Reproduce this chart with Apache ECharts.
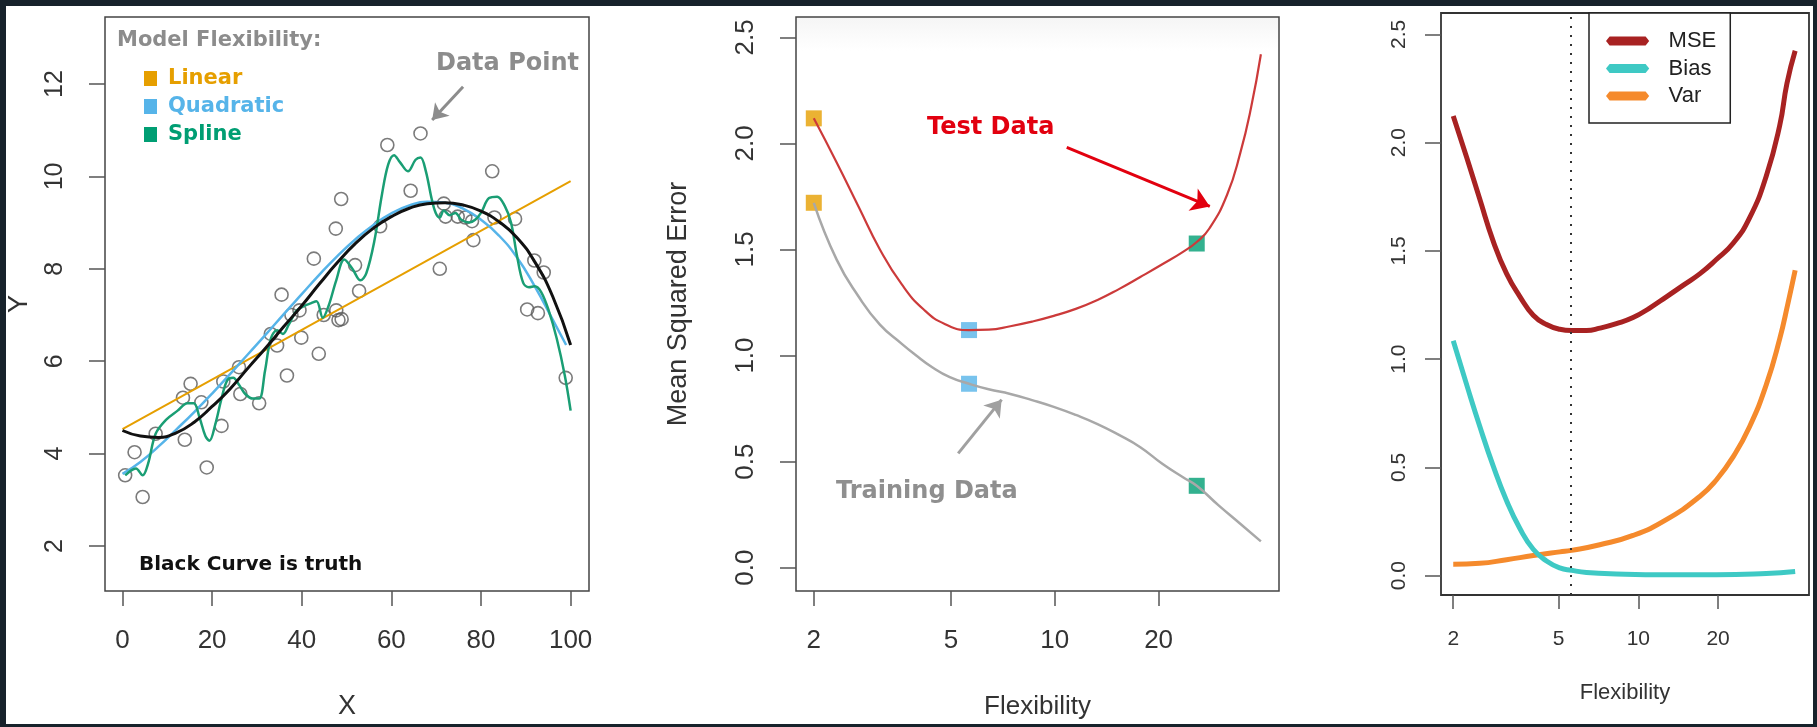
<!DOCTYPE html>
<html>
<head>
<meta charset="utf-8">
<script src="https://cdn.jsdelivr.net/npm/echarts@6/dist/echarts.min.js"></script>
<style>
html,body{margin:0;padding:0;background:#17222b;overflow:hidden;}
#bg{position:absolute;left:6px;top:6px;width:1807px;height:718px;background:#ffffff;}
#c{position:absolute;left:0;top:0;width:1817px;height:727px;}
</style>
</head>
<body>
<div id="bg"></div>
<div id="c"></div>
<script>
// ---------- Left panel: simulated data ----------
const dataX = [0.6,2.7,4.5,7.4,13.9,13.5,15.2,17.6,18.8,22.1,22.5,26.0,26.3,30.5,33.1,34.5,35.5,36.7,37.7,39.5,39.9,42.7,43.8,44.9,47.6,47.7,48.2,48.9,48.8,51.9,52.8,57.5,59.1,64.3,66.5,70.8,71.7,72.1,74.8,76.5,78.0,78.3,82.5,83.0,87.6,90.3,91.9,92.7,94.0,98.9];
const dataY = [3.53,4.03,3.06,4.43,4.30,5.21,5.51,5.11,3.70,4.60,5.56,5.87,5.29,5.09,6.59,6.34,7.44,5.69,7.00,7.10,6.51,8.22,6.16,7.00,8.87,7.10,6.89,6.91,9.51,8.08,7.52,8.92,10.68,9.69,10.93,8.00,9.41,9.13,9.13,9.11,9.03,8.62,10.11,9.11,9.08,7.12,8.18,7.04,7.92,5.64];

const linearX = [0, 100];
const linearY = [4.53, 9.90];

const quadX = [0,4,8,12,16,20,24,28,32,36,40,44,48,52,56,60,64,68,72,76,80,84,88,92,96,99];
const quadY = [3.56,3.82,4.15,4.52,4.90,5.30,5.72,6.15,6.58,7.02,7.45,7.88,8.28,8.64,8.95,9.20,9.37,9.45,9.43,9.30,9.06,8.72,8.25,7.62,6.90,6.35];

const splineX = [0.6,3,4.5,5.7,7.4,9.7,12.3,14.5,15.9,17.2,18.5,19.4,20.7,22.1,23.4,24.7,26.0,27.4,29.1,30.5,31.8,33.1,34.5,35.8,37.1,38.9,40.7,42.0,43.3,44.7,46.0,47.7,49.5,51.3,53.1,54.4,56.2,57.9,59.3,60.6,61.9,63.7,65.4,66.5,67.7,69.0,69.9,70.8,71.7,73.0,74.3,75.6,77.4,78.7,80.0,81.8,83.6,85.3,86.7,88.0,89.4,90.7,92.0,93.4,95.1,96.9,98.7,100];
const splineY = [3.53,3.68,3.53,3.78,4.43,4.73,4.93,5.09,5.09,4.78,4.38,4.28,4.63,5.19,5.59,5.64,5.49,5.29,5.19,5.19,5.79,6.49,6.67,6.59,6.79,7.10,7.20,7.25,7.30,6.94,7.20,7.75,8.20,8.00,7.75,7.90,8.60,9.61,10.26,10.46,10.31,10.11,10.36,10.41,10.11,9.51,9.21,9.11,9.26,9.16,9.21,9.06,9.00,9.06,9.21,9.53,9.56,9.36,9.00,8.30,7.70,7.60,7.62,7.50,7.10,6.49,5.69,4.93];

const truthX = [0,4,8,12,16,20,24,28,32,36,40,44,48,52,56,60,64,68,72,76,80,84,88,92,96,100];
const truthY = [4.50,4.38,4.35,4.45,4.68,5.02,5.40,5.85,6.29,6.75,7.20,7.68,8.14,8.55,8.88,9.13,9.31,9.41,9.43,9.38,9.25,9.02,8.68,8.15,7.40,6.35];

const leftXTicks = [0,20,40,60,80,100];
const leftYTicks = [2,4,6,8,10,12];

// ---------- Middle panel: train / test MSE ----------
const testX = [2,2.33,2.70,3.11,3.60,4.16,4.81,5.64,6.43,7.43,8.59,9.93,11.5,13.3,15.3,17.7,20.5,23.6,25.8,28.1,31.6,34.5,37.1,39.6];
const testY = [2.118,1.91,1.70,1.50,1.335,1.218,1.148,1.12,1.122,1.138,1.16,1.187,1.22,1.262,1.312,1.37,1.43,1.49,1.535,1.60,1.758,1.954,2.17,2.42];
const trainX = [2,2.33,2.70,3.11,3.60,3.93,4.41,4.96,5.64,6.43,7.43,8.59,9.93,11.5,13.3,15.3,17.7,20.5,23.6,25.8,29.8,34.5,39.6];
const trainY = [1.72,1.452,1.277,1.146,1.055,1.005,0.945,0.898,0.867,0.841,0.819,0.79,0.758,0.72,0.677,0.627,0.568,0.49,0.425,0.386,0.295,0.207,0.124];
const fitFlex = [2, 5.64, 25.8];
const fitTest = [2.118, 1.12, 1.528];
const fitTrain = [1.72, 0.867, 0.386];

const flexTicks = [2,5,10,20];
const mseTicks = [0,0.5,1,1.5,2,2.5];

// ---------- Right panel: bias-variance decomposition ----------
const mseX = [2,2.25,2.52,2.83,3.18,3.57,4.01,4.50,5.05,5.59,6.37,7.15,8.26,9.55,11.0,12.8,14.8,17.1,19.7,22.8,26.3,30.4,34.2,36.4,39.1];
const mseY = [2.123,1.93,1.738,1.545,1.395,1.289,1.203,1.16,1.138,1.132,1.132,1.143,1.164,1.192,1.235,1.289,1.342,1.395,1.46,1.535,1.652,1.845,2.08,2.273,2.424];
const biasX = [2,2.25,2.52,2.83,3.18,3.57,4.01,4.50,5.05,5.59,6.37,8.26,12.8,19.7,30.4,39.1];
const biasY = [1.085,0.88,0.689,0.507,0.346,0.218,0.122,0.068,0.036,0.025,0.015,0.008,0.004,0.004,0.010,0.019];
const varX = [2,2.52,3.18,4.01,5.05,5.59,7.15,9.55,12.8,17.1,19.7,22.8,26.3,30.4,34.2,36.7,39.1];
const varY = [0.053,0.057,0.074,0.093,0.11,0.117,0.143,0.186,0.26,0.367,0.442,0.549,0.688,0.881,1.095,1.256,1.41];
const optimumFlex = 5.56;

// ---------- helpers / styles ----------
const pairs = (xs, ys) => xs.map((x, i) => [x, ys[i]]);
const FONT = '"Liberation Sans", Arial, sans-serif';
const BOLD = '"DejaVu Sans", Verdana, sans-serif';
const fitColors = ['#E69F00', '#56B4E9', '#009E73'];

function axisBase(grid, extra) {
  return Object.assign({
    gridIndex: grid,
    axisLine: {show: false, onZero: false},
    splitLine: {show: false},
    minorTick: {show: false},
    nameLocation: 'middle',
    nameMoveOverlap: false
  }, extra);
}
function ticks(vals, len) {
  return {show: true, inside: false, length: len, customValues: vals, lineStyle: {color: '#555', width: 1.5}};
}
function labels(vals, size, margin, rotate, fmt) {
  return {show: true, customValues: vals, fontSize: size, color: '#333', fontFamily: FONT,
          margin: margin, rotate: rotate, formatter: fmt};
}
function arrow(color, size, from, to) {
  return {silent: true, symbol: ['none', 'arrow'], symbolSize: size, label: {show: false},
          itemStyle: {color: color}, emphasis: {disabled: true},
          lineStyle: {color: color, width: 3, type: 'solid'},
          data: [[{coord: from}, {coord: to}]]};
}

const chart = echarts.init(document.getElementById('c'), null, {renderer: 'canvas'});

const option = {
  animation: false,
  backgroundColor: 'transparent',
  grid: [
    {left: 105, top: 17, width: 484, height: 574, show: true, borderColor: '#444', borderWidth: 1.5, backgroundColor: '#fff', outerBoundsMode: 'none', containLabel: false},
    {left: 796, top: 17, width: 483, height: 574, show: true, borderColor: '#444', borderWidth: 1.5, outerBoundsMode: 'none', containLabel: false,
      backgroundColor: {type: 'linear', x: 0, y: 0, x2: 0, y2: 1, colorStops: [{offset: 0, color: '#f5f5f5'}, {offset: 0.06, color: '#ffffff'}, {offset: 1, color: '#ffffff'}]}},
    {left: 1441, top: 13, width: 368, height: 582, show: true, borderColor: '#333', borderWidth: 1.8, backgroundColor: '#fff', outerBoundsMode: 'none', containLabel: false}
  ],
  xAxis: [
    axisBase(0, {type: 'value', min: -3.9, max: 104.1,
      axisTick: ticks(leftXTicks, 15), axisLabel: labels(leftXTicks, 26, 37, 0, v => String(Math.round(v))),
      name: 'X', nameGap: 102, nameTextStyle: {fontSize: 27, color: '#333', fontFamily: FONT}}),
    axisBase(1, {type: 'log', logBase: 10, min: 1.776, max: 44.69,
      axisTick: ticks(flexTicks, 15), axisLabel: labels(flexTicks, 26, 37, 0, v => String(Math.round(v))),
      name: 'Flexibility', nameGap: 103, nameTextStyle: {fontSize: 26, color: '#333', fontFamily: FONT}}),
    axisBase(2, {type: 'log', logBase: 10, min: 1.798, max: 44.1,
      axisTick: ticks(flexTicks, 14), axisLabel: labels(flexTicks, 21, 34, 0, v => String(Math.round(v))),
      name: 'Flexibility', nameGap: 87, nameTextStyle: {fontSize: 22, color: '#333', fontFamily: FONT}})
  ],
  yAxis: [
    axisBase(0, {type: 'value', min: 1.026, max: 13.45,
      axisTick: ticks(leftYTicks, 16), axisLabel: labels(leftYTicks, 25, 37, 90, v => String(Math.round(v))),
      name: 'Y', nameGap: 72, nameTextStyle: {fontSize: 27, color: '#333', fontFamily: FONT}}),
    axisBase(1, {type: 'value', min: -0.1098, max: 2.5957,
      axisTick: ticks(mseTicks, 16), axisLabel: labels(mseTicks, 26, 37, 90, v => v.toFixed(1)),
      name: 'Mean Squared Error', nameGap: 104, nameTextStyle: {fontSize: 27, color: '#333', fontFamily: FONT}}),
    axisBase(2, {type: 'value', min: -0.0891, max: 2.5984,
      axisTick: ticks(mseTicks, 16), axisLabel: labels(mseTicks, 21, 31, 90, v => v.toFixed(1))})
  ],
  legend: [
    {data: [{name: 'Linear', textStyle: {color: fitColors[0]}},
            {name: 'Quadratic', textStyle: {color: fitColors[1]}},
            {name: 'Spline', textStyle: {color: fitColors[2]}}],
     orient: 'vertical', left: 144, top: 68, padding: 0, itemWidth: 13, itemHeight: 15, itemGap: 7,
     icon: 'rect', selectedMode: false,
     textStyle: {fontFamily: BOLD, fontWeight: 'bold', fontSize: 21, padding: [0, 0, 0, 6]}},
    {data: ['MSE', 'Bias', 'Var'], orient: 'vertical', left: 1589, top: 13,
     padding: [17, 14, 16, 17], itemWidth: 48, itemHeight: 9, itemGap: 5.5,
     icon: 'path://M0,5 L4,0 L44,0 L48,5 L44,10 L4,10 Z', selectedMode: false,
     borderColor: '#222', borderWidth: 1.5, backgroundColor: '#fff',
     textStyle: {fontFamily: FONT, fontSize: 22, color: '#222', padding: [0, 0, 0, 12]}}
  ],
  graphic: [
    {type: 'text', x: 117, y: 41, z: 100, style: {text: 'Model Flexibility:', fill: '#8c8c8c', font: 'bold 21px "DejaVu Sans"', verticalAlign: 'middle', textVerticalAlign: 'middle'}},
    {type: 'text', x: 436, y: 64, z: 100, style: {text: 'Data Point', fill: '#8c8c8c', font: 'bold 24px "DejaVu Sans"', verticalAlign: 'middle', textVerticalAlign: 'middle'}},
    {type: 'text', x: 139, y: 565, z: 100, style: {text: 'Black Curve is truth', fill: '#111', font: 'bold 20px "DejaVu Sans"', verticalAlign: 'middle', textVerticalAlign: 'middle'}},
    {type: 'text', x: 927, y: 128, z: 100, style: {text: 'Test Data', fill: '#e2000f', font: 'bold 24px "DejaVu Sans"', verticalAlign: 'middle', textVerticalAlign: 'middle'}},
    {type: 'text', x: 836, y: 492, z: 100, style: {text: 'Training Data', fill: '#8f8f8f', font: 'bold 24px "DejaVu Sans"', verticalAlign: 'middle', textVerticalAlign: 'middle'}}
  ],
  series: [
    // left panel
    {name: 'Data', type: 'scatter', xAxisIndex: 0, yAxisIndex: 0, data: pairs(dataX, dataY),
     symbol: 'circle', symbolSize: 13, silent: true,
     itemStyle: {color: 'rgba(0,0,0,0)', borderColor: '#5a5a5a', borderWidth: 1.6}},
    {name: 'Linear', type: 'line', xAxisIndex: 0, yAxisIndex: 0, data: pairs(linearX, linearY),
     showSymbol: false, itemStyle: {color: fitColors[0]}, lineStyle: {color: fitColors[0], width: 2}},
    {name: 'Quadratic', type: 'line', xAxisIndex: 0, yAxisIndex: 0, data: pairs(quadX, quadY),
     showSymbol: false, smooth: 0.5, itemStyle: {color: fitColors[1]}, lineStyle: {color: fitColors[1], width: 2.5}},
    {name: 'Spline', type: 'line', xAxisIndex: 0, yAxisIndex: 0, data: pairs(splineX, splineY),
     showSymbol: false, smooth: 0.35, itemStyle: {color: fitColors[2]}, lineStyle: {color: '#1a9e74', width: 2.5}},
    {name: 'Truth', type: 'line', xAxisIndex: 0, yAxisIndex: 0, data: pairs(truthX, truthY),
     showSymbol: false, smooth: 0.5, itemStyle: {color: '#111'}, lineStyle: {color: '#111', width: 3},
     markLine: arrow('#8c8c8c', 15, [76.0, 11.94], [69.1, 11.22])},
    // middle panel
    {name: 'Test', type: 'line', xAxisIndex: 1, yAxisIndex: 1, data: pairs(testX, testY),
     showSymbol: false, smooth: 0.5, itemStyle: {color: '#cc3a3a'}, lineStyle: {color: '#cc3a3a', width: 2.2},
     markLine: arrow('#e2000f', 18, [10.83, 1.981], [28.15, 1.703])},
    {name: 'Train', type: 'line', xAxisIndex: 1, yAxisIndex: 1, data: pairs(trainX, trainY),
     showSymbol: false, smooth: 0.5, itemStyle: {color: '#a8a8a8'}, lineStyle: {color: '#a8a8a8', width: 2.5},
     markLine: arrow('#a0a0a0', 16, [5.246, 0.539], [7.01, 0.792])},
    {name: 'TestFits', type: 'scatter', xAxisIndex: 1, yAxisIndex: 1, symbol: 'rect', symbolSize: 16, silent: true,
     data: fitFlex.map((x, i) => ({value: [x, fitTest[i]], itemStyle: {color: fitColors[i]}}))},
    {name: 'TrainFits', type: 'scatter', xAxisIndex: 1, yAxisIndex: 1, symbol: 'rect', symbolSize: 16, silent: true,
     data: fitFlex.map((x, i) => ({value: [x, fitTrain[i]], itemStyle: {color: fitColors[i]}}))},
    // right panel
    {name: 'Var', type: 'line', xAxisIndex: 2, yAxisIndex: 2, data: pairs(varX, varY),
     showSymbol: false, smooth: 0.5, itemStyle: {color: '#f58a2c'}, lineStyle: {color: '#f58a2c', width: 5}},
    {name: 'Bias', type: 'line', xAxisIndex: 2, yAxisIndex: 2, data: pairs(biasX, biasY),
     showSymbol: false, smooth: 0.5, itemStyle: {color: '#3ec9c4'}, lineStyle: {color: '#3ec9c4', width: 5}},
    {name: 'MSE', type: 'line', xAxisIndex: 2, yAxisIndex: 2, data: pairs(mseX, mseY),
     showSymbol: false, smooth: 0.5, itemStyle: {color: '#a82222'}, lineStyle: {color: '#a82222', width: 5},
     markLine: {silent: true, symbol: 'none', label: {show: false},
       lineStyle: {color: '#333', width: 2, type: [2, 7]},
       data: [{xAxis: optimumFlex}]}}
  ]
};
chart.setOption(option);
</script>
</body>
</html>
